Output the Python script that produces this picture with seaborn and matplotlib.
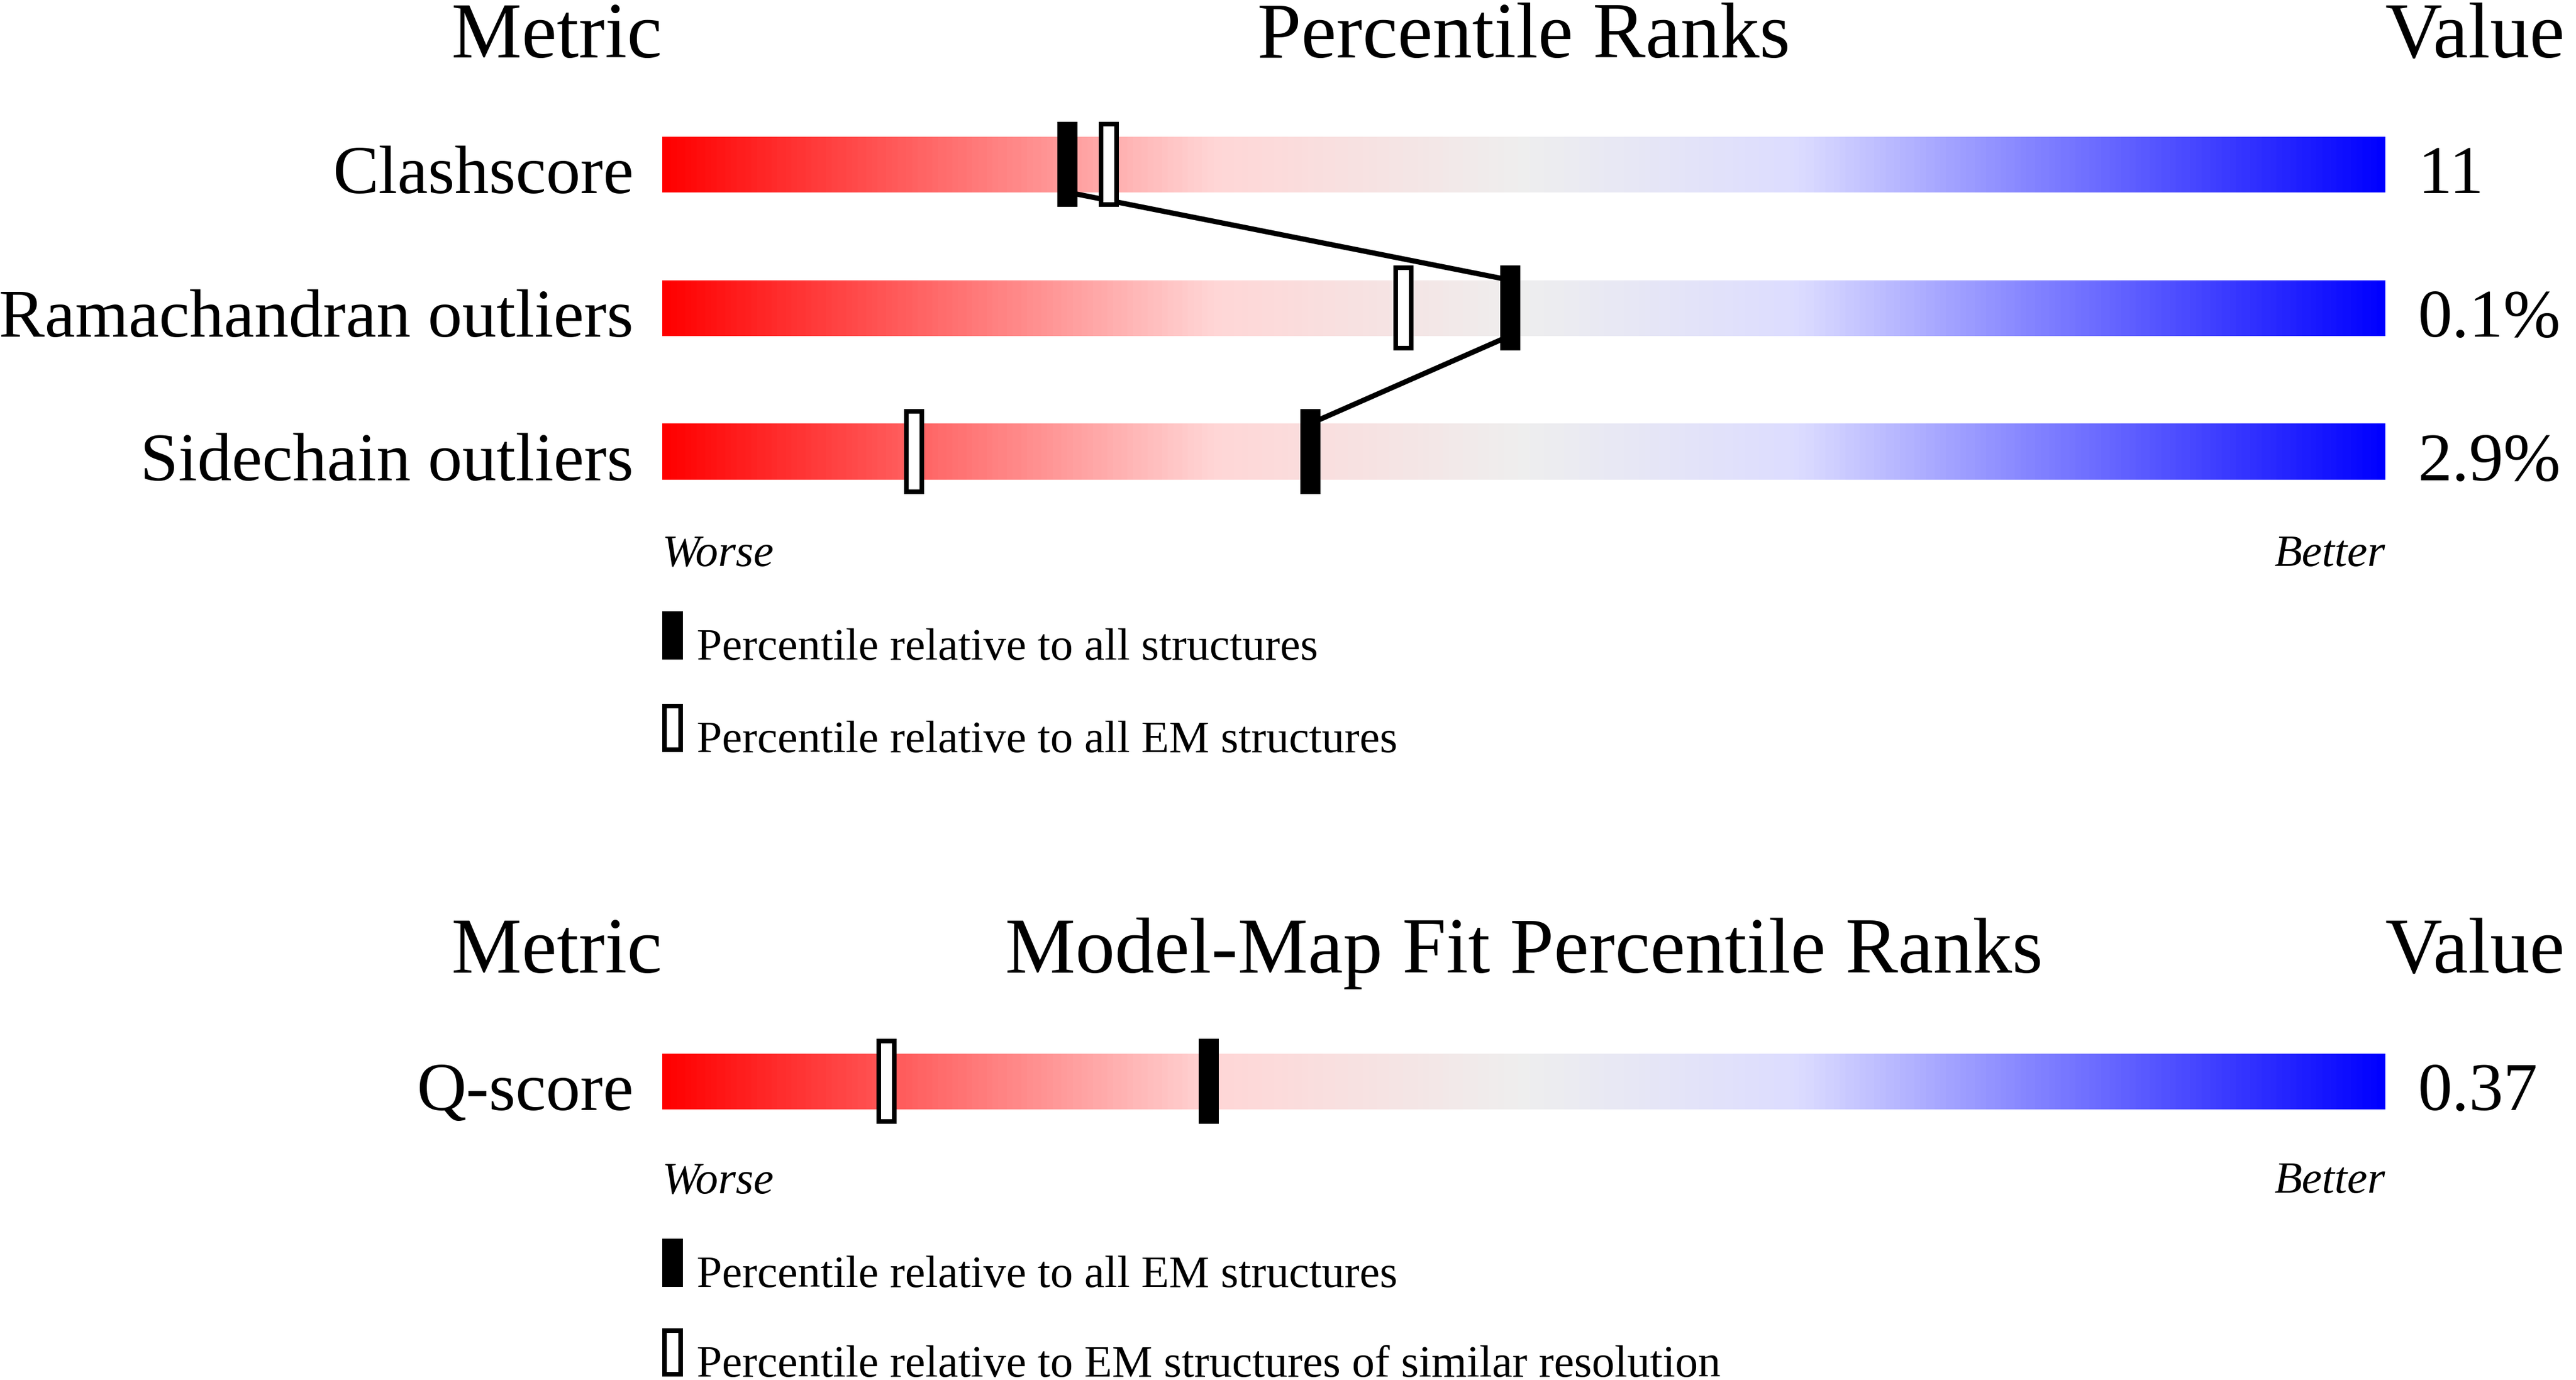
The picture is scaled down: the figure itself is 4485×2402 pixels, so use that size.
"""
Validation percentile slider chart (wwPDB style)
Output: out.png
"""

import matplotlib.pyplot as plt
from matplotlib.colors import LinearSegmentedColormap
from matplotlib.patches import Rectangle
import numpy as np
import seaborn as sns

# Geometry quality metrics
metrics_top = ['Clashscore', 'Ramachandran outliers', 'Sidechain outliers']
values_top = ['11', '0.1%', '2.9%']
pct_all = [23.5, 49.2, 37.6]      # relative to all structures
pct_em = [25.9, 43.0, 14.6]       # relative to all EM structures

# Model-map fit metrics
metrics_fit = ['Q-score']
values_fit = ['0.37']
pct_fit_em = [31.7]               # relative to all EM structures
pct_fit_res = [13.0]              # relative to EM structures of similar resolution

W, H = 4485, 2402
X0, X1 = 1153, 4153               # slider left / right edge (px)
BAR_H = 97
MK_W, MK_H = 35, 148

sns.set_style('white')
plt.rcParams['font.family'] = ['Liberation Serif', 'DejaVu Serif']
plt.rcParams['text.color'] = 'black'

cmap = LinearSegmentedColormap.from_list(
    'slider', [(0.0, '#ff0000'), (0.32, '#ffd6d6'), (0.5, '#eeeeee'),
               (0.66, '#dcdcff'), (1.0, '#0000ff')])
gradient = np.linspace(0, 1, 600).reshape(1, -1)

fig = plt.figure(figsize=(W / 100, H / 100), dpi=100)
fig.patch.set_facecolor('white')

# overlay axes in pixel coordinates for text, markers and lines
ov = fig.add_axes([0, 0, 1, 1], zorder=5)
ov.set_xlim(0, W)
ov.set_ylim(H, 0)
ov.set_axis_off()


def px(p):
    return X0 + p / 100 * (X1 - X0)


def slider(yc):
    ax = fig.add_axes([X0 / W, 1 - (yc + BAR_H / 2) / H, (X1 - X0) / W, BAR_H / H], zorder=1)
    sns.heatmap(gradient, cmap=cmap, vmin=0, vmax=1, cbar=False,
                xticklabels=False, yticklabels=False, ax=ax)
    ax.set_axis_off()


def marker(x, yc, hollow, w=MK_W, h=MK_H):
    lw = 8  # edge width in px
    if hollow:
        ov.add_patch(Rectangle((x - w / 2 + lw / 2, yc - h / 2 + lw / 2), w - lw, h - lw,
                               facecolor='white', edgecolor='black', linewidth=lw * 0.72,
                               joinstyle='miter', zorder=4))
    else:
        ov.add_patch(Rectangle((x - w / 2, yc - h / 2), w, h, facecolor='black',
                               edgecolor='none', zorder=4))


def panel(title_y, centers, names, vals, pa, pb, title, worse_y, leg_y, leg_text):
    ov.text(X0, title_y, 'Metric', ha='right', va='baseline', fontsize=99)
    ov.text((X0 + X1) / 2, title_y, title, ha='center', va='baseline', fontsize=99)
    ov.text(X1, title_y, 'Value', ha='left', va='baseline', fontsize=99)
    for yc, name, val, a, b in zip(centers, names, vals, pa, pb):
        slider(yc)
        ov.text(1103, yc + 50, name, ha='right', va='baseline', fontsize=86)
        ov.text(4210, yc + 50, val, ha='left', va='baseline', fontsize=86)
        marker(px(b), yc, True)
        marker(px(a), yc, False)
    # line joining the filled markers
    for i in range(len(centers) - 1):
        ov.plot([px(pa[i]), px(pa[i + 1])],
                [centers[i] + BAR_H / 2, centers[i + 1] - BAR_H / 2],
                color='black', lw=6.5, solid_capstyle='butt', zorder=3)
    ov.text(X0, worse_y, 'Worse', ha='left', va='baseline', fontsize=57, style='italic')
    ov.text(X1, worse_y, 'Better', ha='right', va='baseline', fontsize=57, style='italic')
    for k, (ly, txt) in enumerate(zip(leg_y, leg_text)):
        marker(X0 + 18, ly - 42, k == 1, w=36, h=84)
        ov.text(1213, ly, txt, ha='left', va='baseline', fontsize=57)


panel(100, [286, 536, 786], metrics_top, values_top, pct_all, pct_em,
      'Percentile Ranks', 985, [1148, 1309],
      ['Percentile relative to all structures',
       'Percentile relative to all EM structures'])

panel(1693, [1882], metrics_fit, values_fit, pct_fit_em, pct_fit_res,
      'Model-Map Fit Percentile Ranks', 2076, [2240, 2396],
      ['Percentile relative to all EM structures',
       'Percentile relative to EM structures of similar resolution'])

fig.savefig('out.png', dpi=100, facecolor='white')
